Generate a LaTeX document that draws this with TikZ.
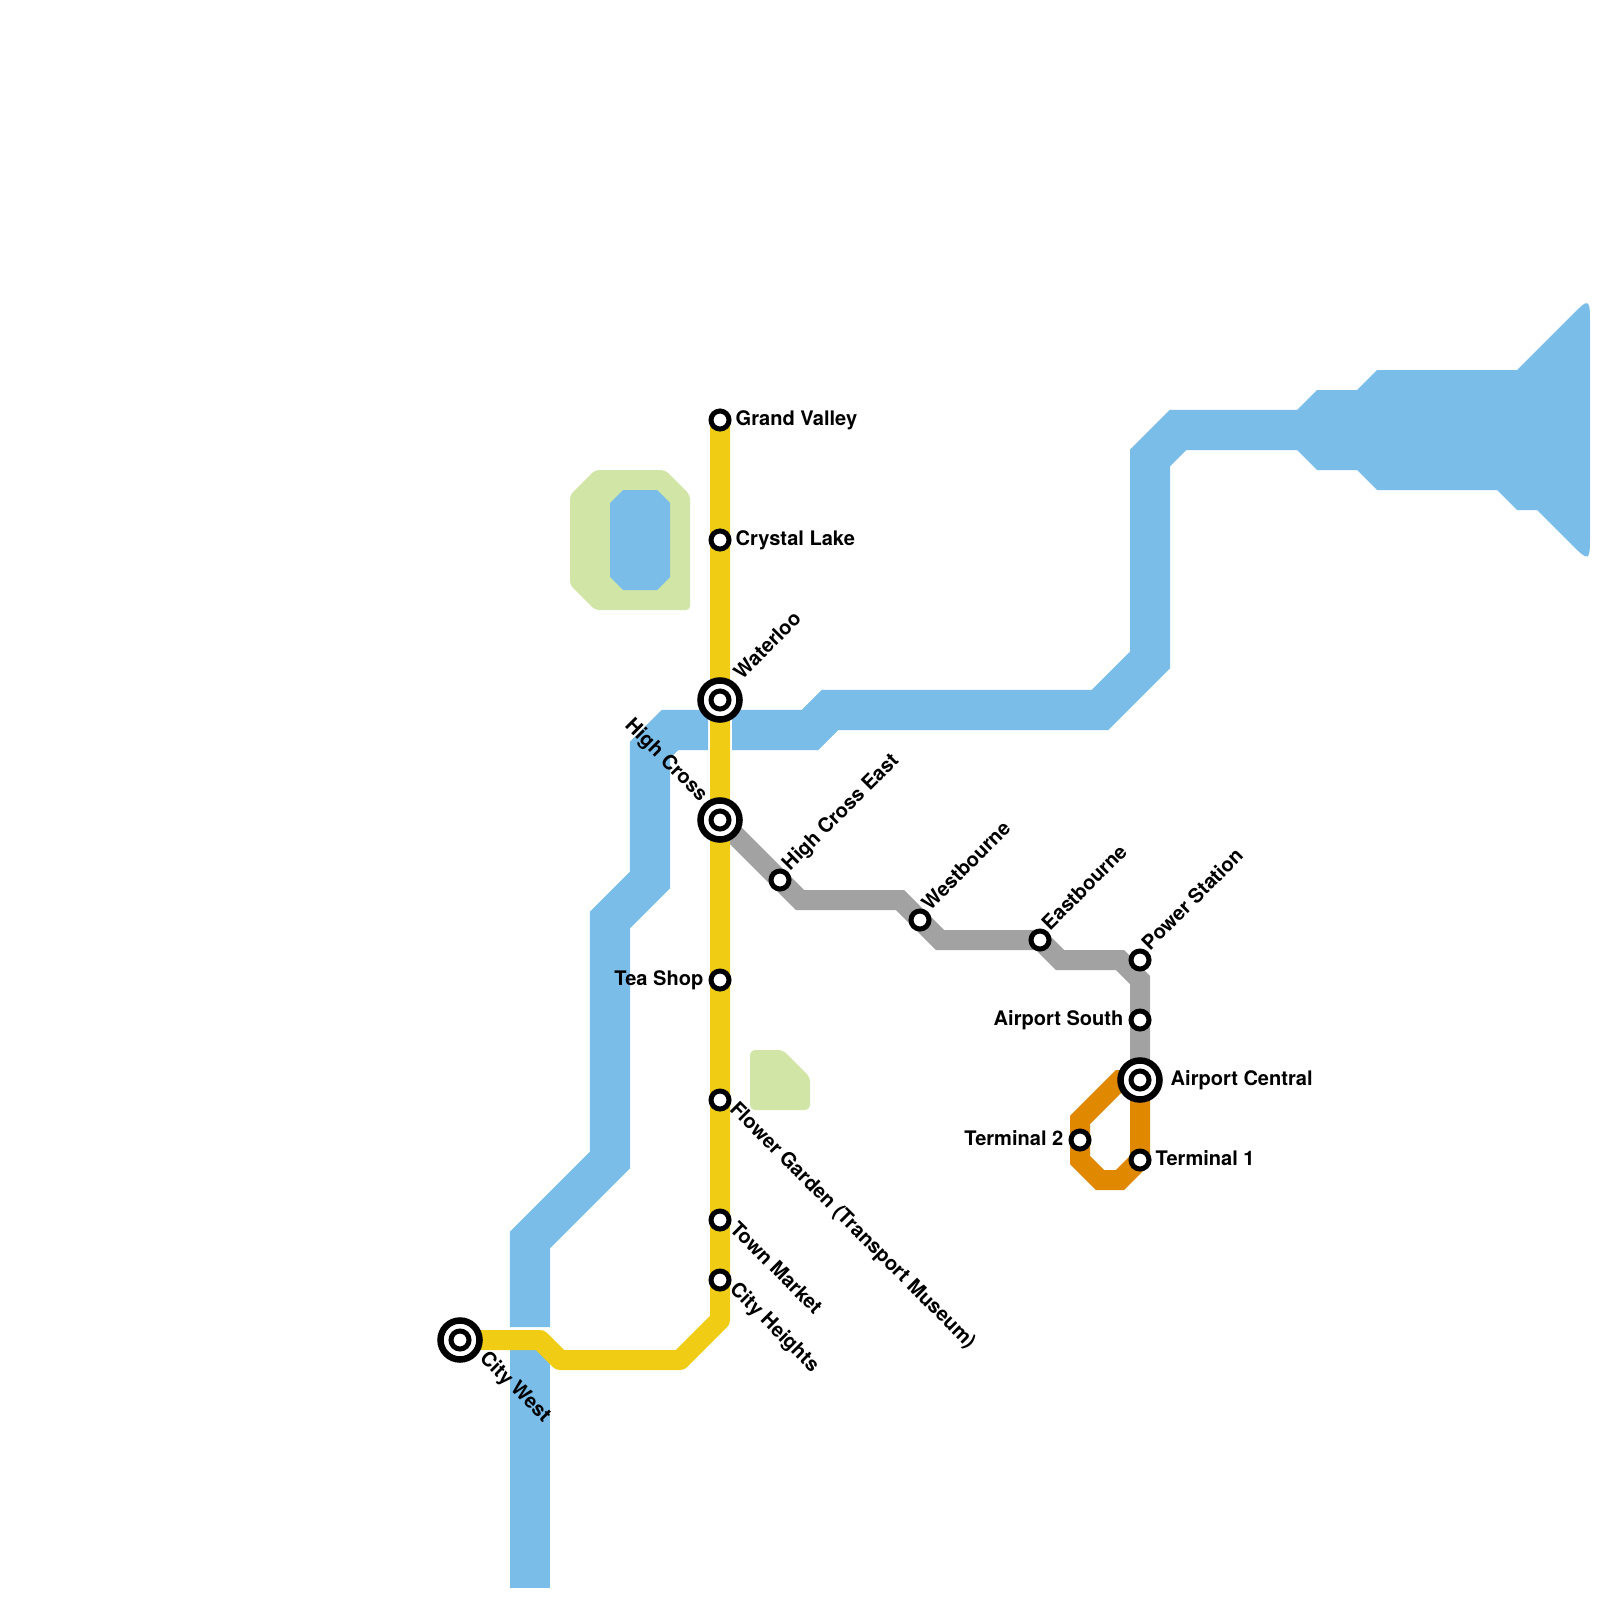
\documentclass[tikz,border=0pt]{standalone}
\usepackage{fontspec}
\setmainfont{TeX Gyre Heros}
\definecolor{riverblue}{HTML}{7ABDE8}
\definecolor{parkgreen}{HTML}{D0E5A6}
\definecolor{lineyellow}{HTML}{F0CD14}
\definecolor{linegray}{HTML}{A2A2A2}
\definecolor{lineorange}{HTML}{E08900}
\tikzset{
  river/.style={line width=4mm, color=riverblue},
  metro/.style={line width=2mm},
  stn/.style={circle, draw=black, fill=white, line width=0.5mm, minimum size=1.8mm, inner sep=0pt},
  xchg/.style={circle, draw=black, fill=white, line width=0.65mm, minimum size=3.9mm, inner sep=0pt},
  lbl/.style={font=\bfseries\fontsize{5.7}{6.8}\selectfont, inner sep=0pt, text height=1.45mm, text depth=0.4mm},
}

\begin{document}
\begin{tikzpicture}[x=0.01cm, y=-0.01cm]
			%%%%% START %%%%%
			\useasboundingbox (0,0) rectangle (1600,1600);
			
			% stations
			\coordinate (gv) at (720,420);
			\coordinate (cl) at (720,540);
			\coordinate (wl) at (720,700);
			\coordinate (hc) at (720,820);
			\coordinate (ts) at (720,980);
			\coordinate (fg) at (720,1100);
			\coordinate (tm) at (720,1220);
			\coordinate (ch) at (720,1280);
			\coordinate (cw) at (460,1340);
			\coordinate (hce) at (780,880);
			\coordinate (wb) at (920,920);
			\coordinate (eb) at (1040,940);
			\coordinate (ps) at (1140,960);
			\coordinate (aps) at (1140,1020);
			\coordinate (ac) at (1140,1080);
			\coordinate (t2) at (1080,1140);
			\coordinate (t1) at (1140,1160);
			
			% parks and lake
			\fill[parkgreen, rounded corners=0.4mm] (595,470) -- (665,470) -- (690,495) -- (690,610) -- (595,610) -- (570,585) -- (570,495) -- cycle;
			\fill[riverblue] (623,490) -- (657,490) -- (670,503) -- (670,577) -- (657,590) -- (623,590) -- (610,577) -- (610,503) -- cycle;
			\fill[parkgreen, rounded corners=0.5mm] (750,1050) -- (783,1050) -- (810,1077) -- (810,1110) -- (750,1110) -- cycle;
			
			% river
			\draw[river] (530,1588) -- (530,1350);
			\draw[river] (530,1327) -- (530,1240) -- (610,1160) -- (610,920) -- (650,880) -- (650,750) -- (670,730) -- (708,730);
			\draw[river] (732,730) -- (810,730) -- (830,710) -- (1100,710) -- (1150,660) -- (1150,458) -- (1178,430) -- (1300,430);
			\fill[riverblue] (1297,410) -- (1317,390) -- (1357,390) -- (1377,370) -- (1517,370) -- (1570,317) .. controls (1590,297) .. (1590,327) -- (1590,533) .. controls (1590,563) .. (1568,541) -- (1537,510) -- (1517,510) -- (1497,490) -- (1377,490) -- (1357,470) -- (1317,470) -- (1297,450) -- cycle;
			
			% lines
			\draw[metro, linegray] (hc) -- (hce) -- (800,900) -- (900,900) -- (wb) -- (940,940) -- (eb) -- (1060,960) -- (1120,960) -- (1140,980) -- (aps) -- (ac);
			\draw[metro, lineorange] (ac) -- (t1) -- (1120,1180) -- (1100,1180) -- (1080,1160) -- (t2) -- (1080,1120) -- (1120,1080) -- (ac);
			\draw[metro, lineyellow, line join=round] (gv) -- (cl) -- (wl) -- (hc) -- (ts) -- (fg) -- (tm) -- (ch) -- (720,1320) -- (680,1360) -- (560,1360) -- (540,1340) -- (cw);
			
			% interchanges
			\node[xchg] (wl-ring) at (wl) {};
			\node[xchg] (hc-ring) at (hc) {};
			\node[xchg] (cw-ring) at (cw) {};
			\node[xchg] (ac-ring) at (ac) {};
			
			% station dots
			\foreach \s in {gv,cl,wl,hc,ts,fg,tm,ch,cw,hce,wb,eb,ps,aps,ac,t2,t1}
				\node[stn] (\s-dot) at (\s) {};
			
			% labels
			\node[lbl, anchor=west] (gv-lbl) at ([shift={(15,0)}]gv) {Grand Valley};
			\node[lbl, anchor=west] (cl-lbl) at ([shift={(15,0)}]cl) {Crystal Lake};
			\node[lbl, anchor=west, rotate=45] (wl-lbl) at ([shift={(18,-23)}]wl) {Waterloo};
			\node[lbl, anchor=east, rotate=-45] (hc-lbl) at ([shift={(-16,-21)}]hc) {High Cross};
			\node[lbl, anchor=west, rotate=45] (hce-lbl) at ([shift={(6,-12)}]hce) {High Cross East};
			\node[lbl, anchor=west, rotate=45] (wb-lbl) at ([shift={(6,-12)}]wb) {Westbourne};
			\node[lbl, anchor=west, rotate=45] (eb-lbl) at ([shift={(6,-12)}]eb) {Eastbourne};
			\node[lbl, anchor=west, rotate=45] (ps-lbl) at ([shift={(6,-12)}]ps) {Power Station};
			\node[lbl, anchor=east] (ts-lbl) at ([shift={(-16,0)}]ts) {Tea Shop};
			\node[lbl, anchor=west, rotate=-45] (fg-lbl) at ([shift={(12,6)}]fg) {Flower Garden (Transport Museum)};
			\node[lbl, anchor=west, rotate=-45] (tm-lbl) at ([shift={(12,6)}]tm) {Town Market};
			\node[lbl, anchor=west, rotate=-45] (ch-lbl) at ([shift={(12,6)}]ch) {City Heights};
			\node[lbl, anchor=west, rotate=-45] (cw-lbl) at ([shift={(22,15)}]cw) {City West};
			\node[lbl, anchor=east] (aps-lbl) at ([shift={(-16,0)}]aps) {Airport South};
			\node[lbl, anchor=west] (ac-lbl) at ([shift={(30,0)}]ac) {Airport Central};
			\node[lbl, anchor=east] (t2-lbl) at ([shift={(-16,0)}]t2) {Terminal 2};
			\node[lbl, anchor=west] (t1-lbl) at ([shift={(15,0)}]t1) {Terminal 1};
			
			%%%%% END %%%%%
\end{tikzpicture}
\end{document}
